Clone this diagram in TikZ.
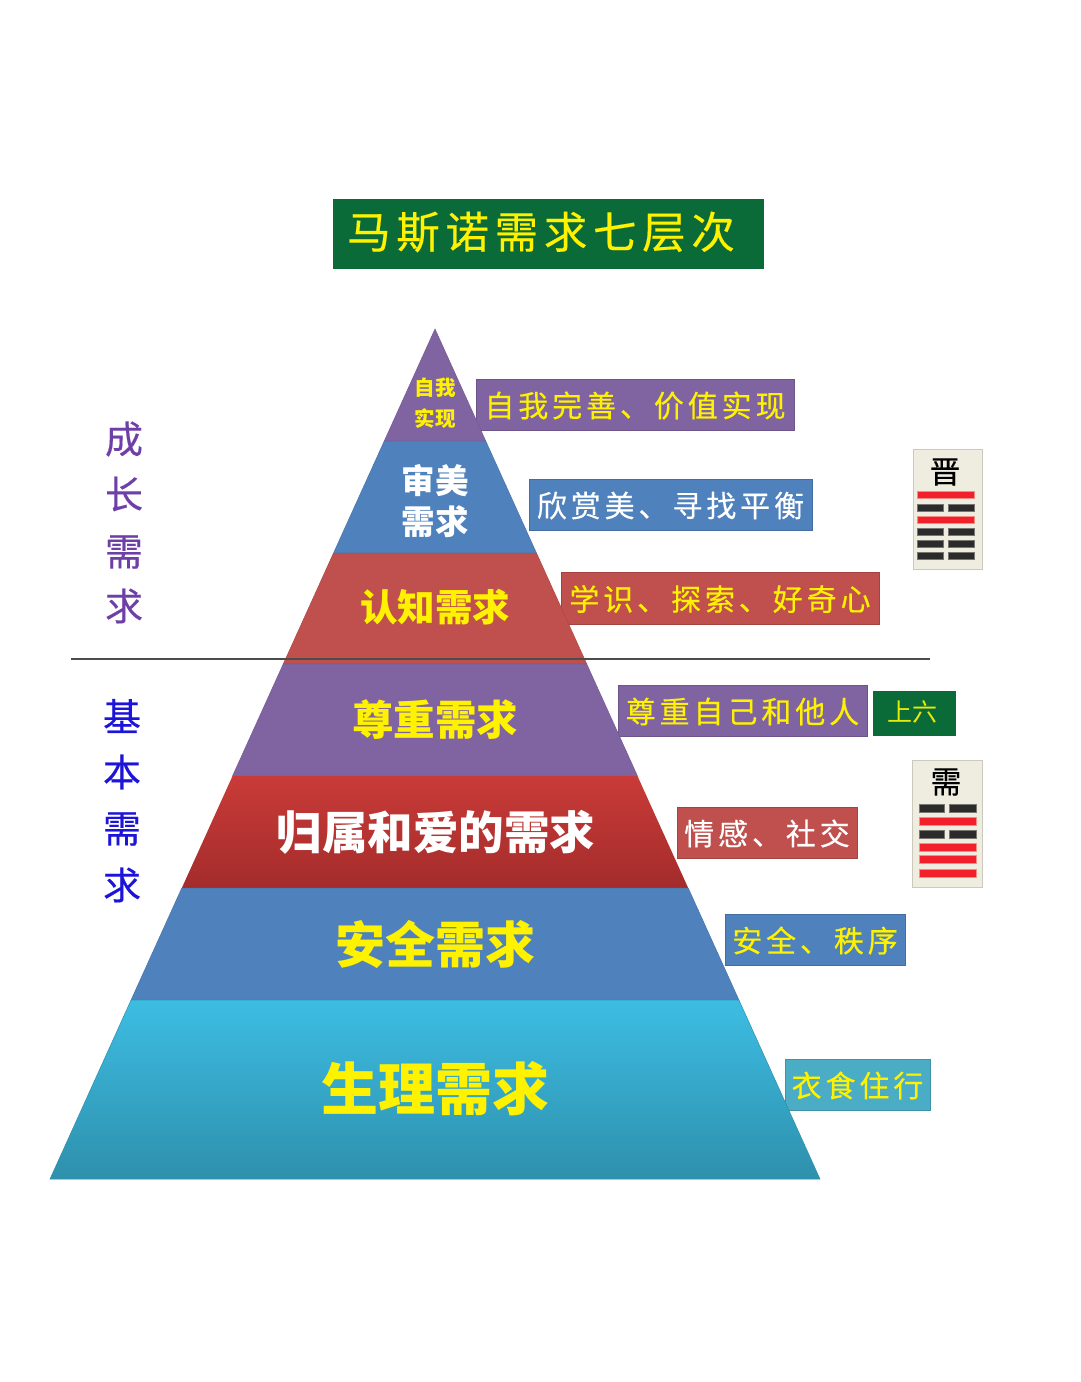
\documentclass[tikz,border=0pt]{standalone}
\usepackage{fontspec}
\setmainfont{Noto Sans CJK SC}
\newfontfamily\labfont[LetterSpace=13,FakeBold=0.35]{Noto Sans CJK SC}
\newfontfamily\tilefont[FakeBold=0.3]{Noto Sans CJK SC}
\usetikzlibrary{calc}
\definecolor{cpurple}{HTML}{8064A2}
\definecolor{cblue}{HTML}{4F81BD}
\definecolor{cred}{HTML}{C0504D}
\definecolor{cgreen}{HTML}{0B6B38}
\definecolor{ccyan}{HTML}{3DBDE3}
\definecolor{ccyanb}{HTML}{3A9FC0}
\definecolor{ccyanc}{HTML}{2E90AC}
\definecolor{credt}{HTML}{C93B38}
\definecolor{credm}{HTML}{C23A38}
\definecolor{credb}{HTML}{A32C2B}
\definecolor{cteal}{HTML}{4AACC5}
\definecolor{ctile}{HTML}{EFEDE0}
\definecolor{cdark}{HTML}{2B2B2B}
\definecolor{cline}{HTML}{F2202A}
\definecolor{cgrow}{HTML}{6F3FA8}
\definecolor{cbase}{HTML}{1C14D8}
\tikzset{
  x=1pt,y=-1pt,
  band/.style={inner sep=0pt,line width=0.5pt},
  bandtext/.style={font=\bfseries\fontsize{#1}{#1}\selectfont,inner sep=0pt,text=yellow},
  labelbox/.style={draw=#1!85!black,line width=0.8pt,fill=#1},
  labeltext/.style={font=\labfont\fontsize{30}{30}\selectfont,inner sep=0pt,text=yellow},
  sidetext/.style={font=\labfont\fontsize{38}{38}\selectfont,inner sep=0pt},
  tile/.style={fill=ctile,draw=ctile!85!black,line width=0.4pt},
  yang/.style={fill=cline,draw=ctile!60!red,line width=0.4pt},
  yin/.style={fill=cdark,draw=ctile!50!black,line width=0.4pt},
}
\newcommand{\pyr}[3]{% top y, bottom y, options
  \path[#3] ({435-0.45294*(#1-329)},#1) -- ({435+0.45294*(#1-329)},#1)
     -- ({435+0.45294*(#2-329)},#2) -- ({435-0.45294*(#2-329)},#2) -- cycle;}
\newcommand{\lab}[7]{% name,x1,y1,x2,y2,colour,text
  \path[labelbox=#6] (#2,#3) rectangle (#4,#5);
  \node[labeltext] (#1) at ({(#2+#4)/2},{(#3+#5)/2+1}) {#7};}
\newcommand{\yangbar}[4]{\path[yang] (#1,{#3-#4}) rectangle (#2,{#3+#4});}
\newcommand{\yinbar}[6]{\path[yin] (#1,{#5-#6}) rectangle (#2,{#5+#6});\path[yin] (#3,{#5-#6}) rectangle (#4,{#5+#6});}
\begin{document}
\begin{tikzpicture}
\path[use as bounding box,fill=white] (0,0) rectangle (1080,1382);
% labels (behind the pyramid)
\lab{l1}{476}{379}{794}{430}{cpurple}{自我完善、价值实现}
\lab{l2}{529}{479}{812}{530}{cblue}{\color{white}欣赏美、寻找平衡}
\lab{l3}{561}{572}{879}{624}{cred}{学识、探索、好奇心}
\lab{l4}{618}{685}{867}{736}{cpurple}{尊重自己和他人}
\lab{l5}{677}{807}{857}{858}{cred}{\color{white}情感、社交}
\lab{l6}{725}{914}{905}{965}{cblue}{安全、秩序}
\lab{l7}{785}{1059}{930}{1110}{cteal}{衣食住行}
% pyramid
\pyr{329}{441}{band,fill=cpurple,draw=cpurple!90!black}
\pyr{441}{553}{band,fill=cblue,draw=cblue!90!black}
\pyr{553}{664}{band,fill=cred,draw=cred!90!black}
\pyr{664}{776}{band,fill=cpurple,draw=cpurple!90!black}
\pyr{776}{888}{band,top color=credt,middle color=credm,bottom color=credb,draw=none}
\pyr{888}{1000}{band,fill=cblue,draw=cblue!90!black}
\pyr{1000}{1179}{band,top color=ccyan,middle color=ccyanb,bottom color=ccyanc,draw=ccyanc}
% pyramid texts
\node[bandtext=20.5] (t1a) at (435,388) {自我};
\node[bandtext=20.5] (t1b) at (435,419) {实现};
\node[bandtext=33.5,text=white] (t2a) at (435,481) {审美};
\node[bandtext=33.5,text=white] (t2b) at (435,522) {需求};
\node[bandtext=37.5] (t3) at (435,607) {认知需求};
\node[bandtext=41.5] (t4) at (435,720) {尊重需求};
\node[bandtext=45.5,text=white] (t5) at (436,832) {归属和爱的需求};
\node[bandtext=50] (t6) at (435,944) {安全需求};
\node[bandtext=57] (t7) at (435,1089) {生理需求};
% title
\path[fill=cgreen,draw=cgreen] (333,199) rectangle (763,268);
\node[font=\labfont\fontsize{43.5}{43.5}\selectfont,inner sep=0pt,text=yellow] (title) at (541,232) {马斯诺需求七层次};
% 上六
\path[fill=cgreen,draw=cgreen] (873,691) rectangle (955,735);
\node[font=\fontsize{25}{25}\selectfont,inner sep=0pt,text=yellow!90!green] (liu) at (912,712) {上六};
% divider
\coordinate (divL) at (71,659);
\coordinate (divR) at (930,659);
\draw[line width=1.2pt,draw=black!70] (divL) -- (divR);
% side texts
\node[sidetext,text=cgrow] (a1) at (124,439) {成};
\node[sidetext,text=cgrow] (a2) at (124,494) {长};
\node[sidetext,text=cgrow] (a3) at (124,552) {需};
\node[sidetext,text=cgrow] (a4) at (124,606) {求};
\node[sidetext,text=cbase] (b1) at (122,716) {基};
\node[sidetext,text=cbase] (b2) at (122,772) {本};
\node[sidetext,text=cbase] (b3) at (122,829) {需};
\node[sidetext,text=cbase] (b4) at (122,885) {求};
% tile jin
\path[tile] (913,449) rectangle (982,569);
\node[font=\tilefont\fontsize{31}{31}\selectfont,inner sep=0pt,text=black] (jin) at (945,472) {晋};
\yangbar{917}{974}{495}{3.5}
\yinbar{917}{943}{948}{974}{508}{3.5}
\yangbar{917}{974}{520}{3.5}
\yinbar{917}{943}{948}{974}{532}{3.5}
\yinbar{917}{943}{948}{974}{544}{3.5}
\yinbar{917}{943}{948}{974}{556}{3.5}
% tile xu
\path[tile] (912,760) rectangle (982,887);
\node[font=\tilefont\fontsize{31}{31}\selectfont,inner sep=0pt,text=black] (xu) at (946,782) {需};
\yinbar{919}{944}{949}{976}{808}{4}
\yangbar{919}{976}{821}{4}
\yinbar{919}{944}{949}{976}{834}{4}
\yangbar{919}{976}{847}{4}
\yangbar{919}{976}{859}{4}
\yangbar{919}{976}{873}{4}
\end{tikzpicture}
\end{document}
